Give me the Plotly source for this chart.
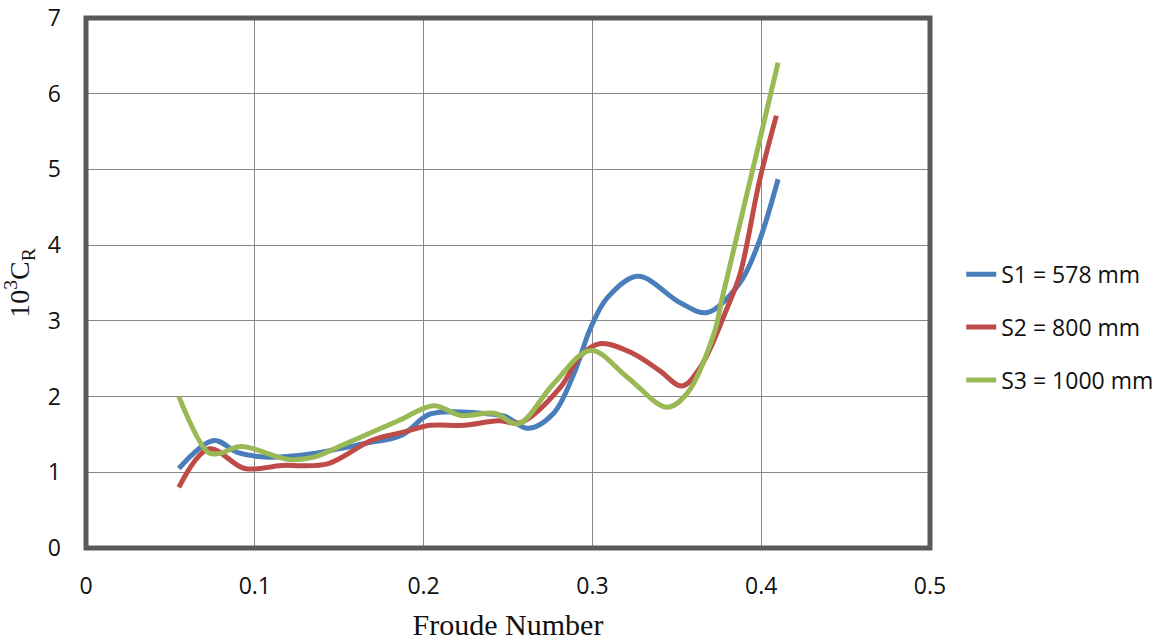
import plotly.graph_objects as go

# Series S1 = 578 mm
s1_fn = [0.055, 0.0757, 0.090, 0.108, 0.135, 0.165, 0.187, 0.204, 0.234, 0.248, 0.262, 0.277,
         0.289, 0.299, 0.309, 0.327, 0.352, 0.368, 0.387, 0.398, 0.410]
s1_cr = [1.05, 1.42, 1.26, 1.20, 1.25, 1.38, 1.49, 1.77, 1.78, 1.74, 1.58, 1.78,
         2.30, 2.91, 3.31, 3.59, 3.24, 3.11, 3.49, 4.00, 4.87]

# Series S2 = 800 mm
s2_fn = [0.055, 0.073, 0.094, 0.116, 0.143, 0.169, 0.188, 0.204, 0.224, 0.244, 0.258, 0.281,
         0.293, 0.305, 0.324, 0.340, 0.353, 0.364, 0.380, 0.3875, 0.399, 0.409]
s2_cr = [0.80, 1.31, 1.05, 1.09, 1.11, 1.42, 1.53, 1.62, 1.62, 1.68, 1.66, 2.12,
         2.54, 2.70, 2.57, 2.34, 2.14, 2.39, 3.18, 3.62, 4.85, 5.71]

# Series S3 = 1000 mm
s3_fn = [0.055, 0.0725, 0.079, 0.092, 0.120, 0.135, 0.151, 0.185, 0.206, 0.222, 0.242, 0.256,
         0.277, 0.299, 0.321, 0.344, 0.356, 0.372, 0.377, 0.410]
s3_cr = [2.00, 1.26, 1.25, 1.34, 1.17, 1.20, 1.35, 1.68, 1.88, 1.75, 1.78, 1.64,
         2.17, 2.61, 2.25, 1.86, 2.04, 2.83, 3.31, 6.41]

names = ["S1 = 578 mm", "S2 = 800 mm", "S3 = 1000 mm"]
colors = ["#4A7EBB", "#BE4B48", "#98B954"]

x_ticks = [0, 0.1, 0.2, 0.3, 0.4, 0.5]
x_tick_labels = ["0", "0.1", "0.2", "0.3", "0.4", "0.5"]
y_ticks = [0, 1, 2, 3, 4, 5, 6, 7]

fig = go.Figure()
for i, (xs, ys) in enumerate([(s1_fn, s1_cr), (s2_fn, s2_cr), (s3_fn, s3_cr)]):
    fig.add_trace(go.Scatter(
        x=xs, y=ys, mode="lines", name=names[i], legendgroup=names[i],
        line=dict(color=colors[i], width=5, shape="spline", smoothing=1.0),
    ))

fig.update_layout(
    width=1163, height=641,
    margin=dict(l=85.5, r=232.5, t=17.5, b=93, autoexpand=False),
    paper_bgcolor="white", plot_bgcolor="white",
    font=dict(family="Open Sans", size=23, color="#111111"),
    showlegend=True,
    legend=dict(x=1.037, xanchor="left", y=0.4166, yanchor="middle",
                traceorder="grouped", tracegroupgap=20,
                font=dict(family="Open Sans", size=23, color="#111111"),
                bgcolor="rgba(0,0,0,0)", borderwidth=0),
    xaxis=dict(range=[0, 0.5], tickvals=x_ticks, ticktext=x_tick_labels,
               showgrid=True, gridcolor="#878787", gridwidth=1.3,
               zeroline=False, showline=False, ticks="", automargin=False,
               ticklabelstandoff=22, ticklabeloverflow="allow",
               title=dict(text="Froude Number",
                          font=dict(family="Liberation Serif", size=30, color="#111111"))),
    yaxis=dict(range=[0, 7], tickvals=y_ticks,
               showgrid=True, gridcolor="#878787", gridwidth=1.3,
               zeroline=False, showline=False, ticks="", automargin=False,
               ticklabelstandoff=24, ticklabeloverflow="allow",
               title=dict(text="10<sup>3</sup>C<sub>R</sub>",
                          font=dict(family="Liberation Serif", size=28, color="#111111"))),
    shapes=[dict(type="rect", xref="paper", yref="paper", x0=0, x1=1, y0=0, y1=1,
                 line=dict(color="#595959", width=5), layer="above")],
)

fig.write_html("out.html", config={"displayModeBar": False},
               post_script="document.body.style.margin='0';")
